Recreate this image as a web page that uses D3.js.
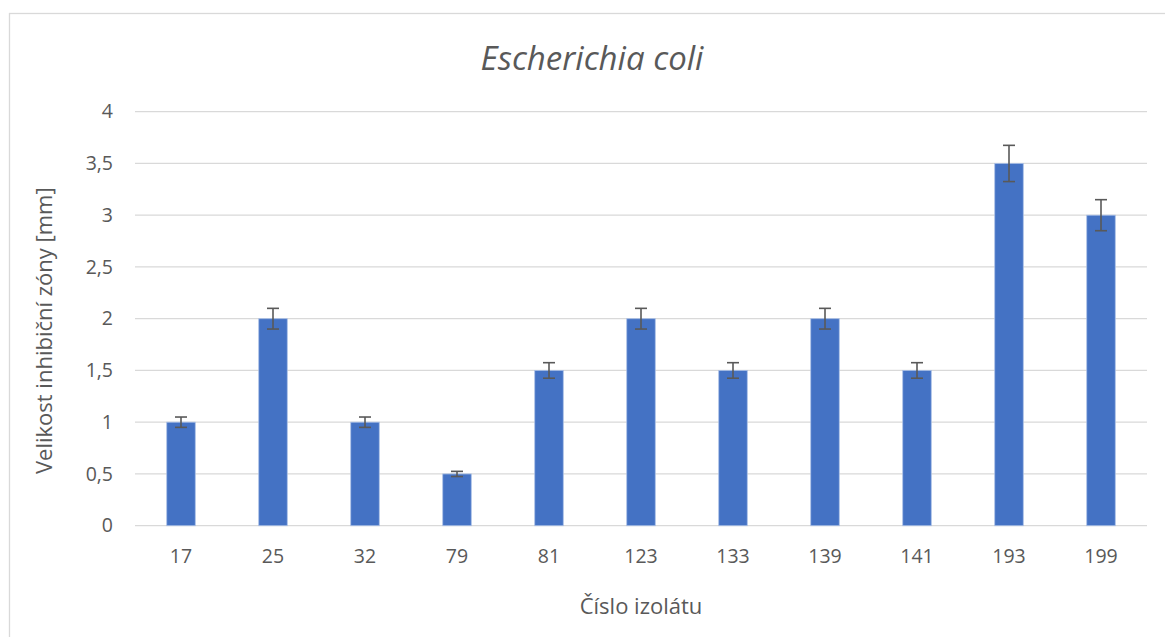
<!DOCTYPE html>
<html>
<head>
<meta charset="utf-8">
<script src="https://cdn.jsdelivr.net/npm/d3@7"></script>
<style>
  html, body { margin: 0; padding: 0; background: #fff; }
  svg { display: block; }
</style>
</head>
<body>
<script>
const categories = ["17", "25", "32", "79", "81", "123", "133", "139", "141", "193", "199"];
const values = [1, 2, 1, 0.5, 1.5, 2, 1.5, 2, 1.5, 3.5, 3];
const errors = [0.05, 0.1, 0.05, 0.025, 0.075, 0.1, 0.075, 0.1, 0.075, 0.175, 0.15];
const yTicks = [0, 0.5, 1, 1.5, 2, 2.5, 3, 3.5, 4];
const title = "Escherichia coli";
const xTitle = "Číslo izolátu";
const yTitle = "Velikost inhibiční zóny [mm]";

const W = 1165, H = 637;
const font = "'Open Sans', 'Noto Sans', sans-serif";
const textColor = "#595959";

const svg = d3.select("body").append("svg").attr("width", W).attr("height", H);

// chart border
svg.append("rect").attr("x", 9.5).attr("y", 13.5).attr("width", W).attr("height", H)
  .attr("fill", "#fff").attr("stroke", "#d9d9d9").attr("stroke-width", 1.3);

const plot = { left: 135, right: 1147, top: 111.7, bottom: 525.7 };

const x = d3.scaleBand().domain(categories).range([plot.left, plot.right]).paddingInner(0.69).paddingOuter(0.345);
const y = d3.scaleLinear().domain([0, 4]).range([plot.bottom, plot.top]);

// gridlines
svg.append("g").selectAll("line").data(yTicks).join("line")
  .attr("x1", plot.left).attr("x2", plot.right)
  .attr("y1", d => y(d)).attr("y2", d => y(d))
  .attr("stroke", "#d9d9d9").attr("stroke-width", 1.3);

// y axis labels
const yAxis = d3.axisLeft(y).tickValues(yTicks).tickSize(0).tickPadding(0)
  .tickFormat(d => String(d).replace(".", ","));
const gy = svg.append("g").attr("transform", `translate(${plot.left - 22},0)`).call(yAxis);
gy.select(".domain").remove();
gy.selectAll("text").attr("fill", textColor).style("font-family", font).style("font-size", "19.5px");

// x axis labels
const xAxis = d3.axisBottom(x).tickSize(0).tickPadding(0);
const gx = svg.append("g").attr("transform", `translate(0,${plot.bottom + 23})`).call(xAxis);
gx.select(".domain").remove();
gx.selectAll("text").attr("fill", textColor).style("font-family", font).style("font-size", "19.5px");

// bars
svg.append("g").selectAll("rect").data(values).join("rect")
  .attr("x", (d, i) => x(categories[i]))
  .attr("width", x.bandwidth())
  .attr("y", d => y(d))
  .attr("height", d => y(0) - y(d))
  .attr("fill", "#4472c4")
  .attr("stroke", "#a9bfe6").attr("stroke-width", 0.8);

// error bars
const eb = svg.append("g").attr("stroke", "#595959").attr("stroke-width", 1.6);
values.forEach((v, i) => {
  const cx = x(categories[i]) + x.bandwidth() / 2;
  const y1 = y(v + errors[i]), y2 = y(v - errors[i]);
  eb.append("line").attr("x1", cx).attr("x2", cx).attr("y1", y1).attr("y2", y2);
  eb.append("line").attr("x1", cx - 6).attr("x2", cx + 6).attr("y1", y1).attr("y2", y1);
  eb.append("line").attr("x1", cx - 6).attr("x2", cx + 6).attr("y1", y2).attr("y2", y2);
});

// title
svg.append("text").attr("x", 592).attr("y", 70).attr("text-anchor", "middle")
  .attr("fill", textColor).style("font-family", font).style("font-size", "33px")
  .style("font-style", "italic").text(title);

// x title
svg.append("text").attr("x", (plot.left + plot.right) / 2).attr("y", 614).attr("text-anchor", "middle")
  .attr("fill", textColor).style("font-family", font).style("font-size", "22px").text(xTitle);

// y title
svg.append("text").attr("transform", `translate(52,${(plot.top + plot.bottom) / 2 + 12}) rotate(-90)`)
  .attr("text-anchor", "middle")
  .attr("fill", textColor).style("font-family", font).style("font-size", "22px").text(yTitle);
</script>
</body>
</html>
